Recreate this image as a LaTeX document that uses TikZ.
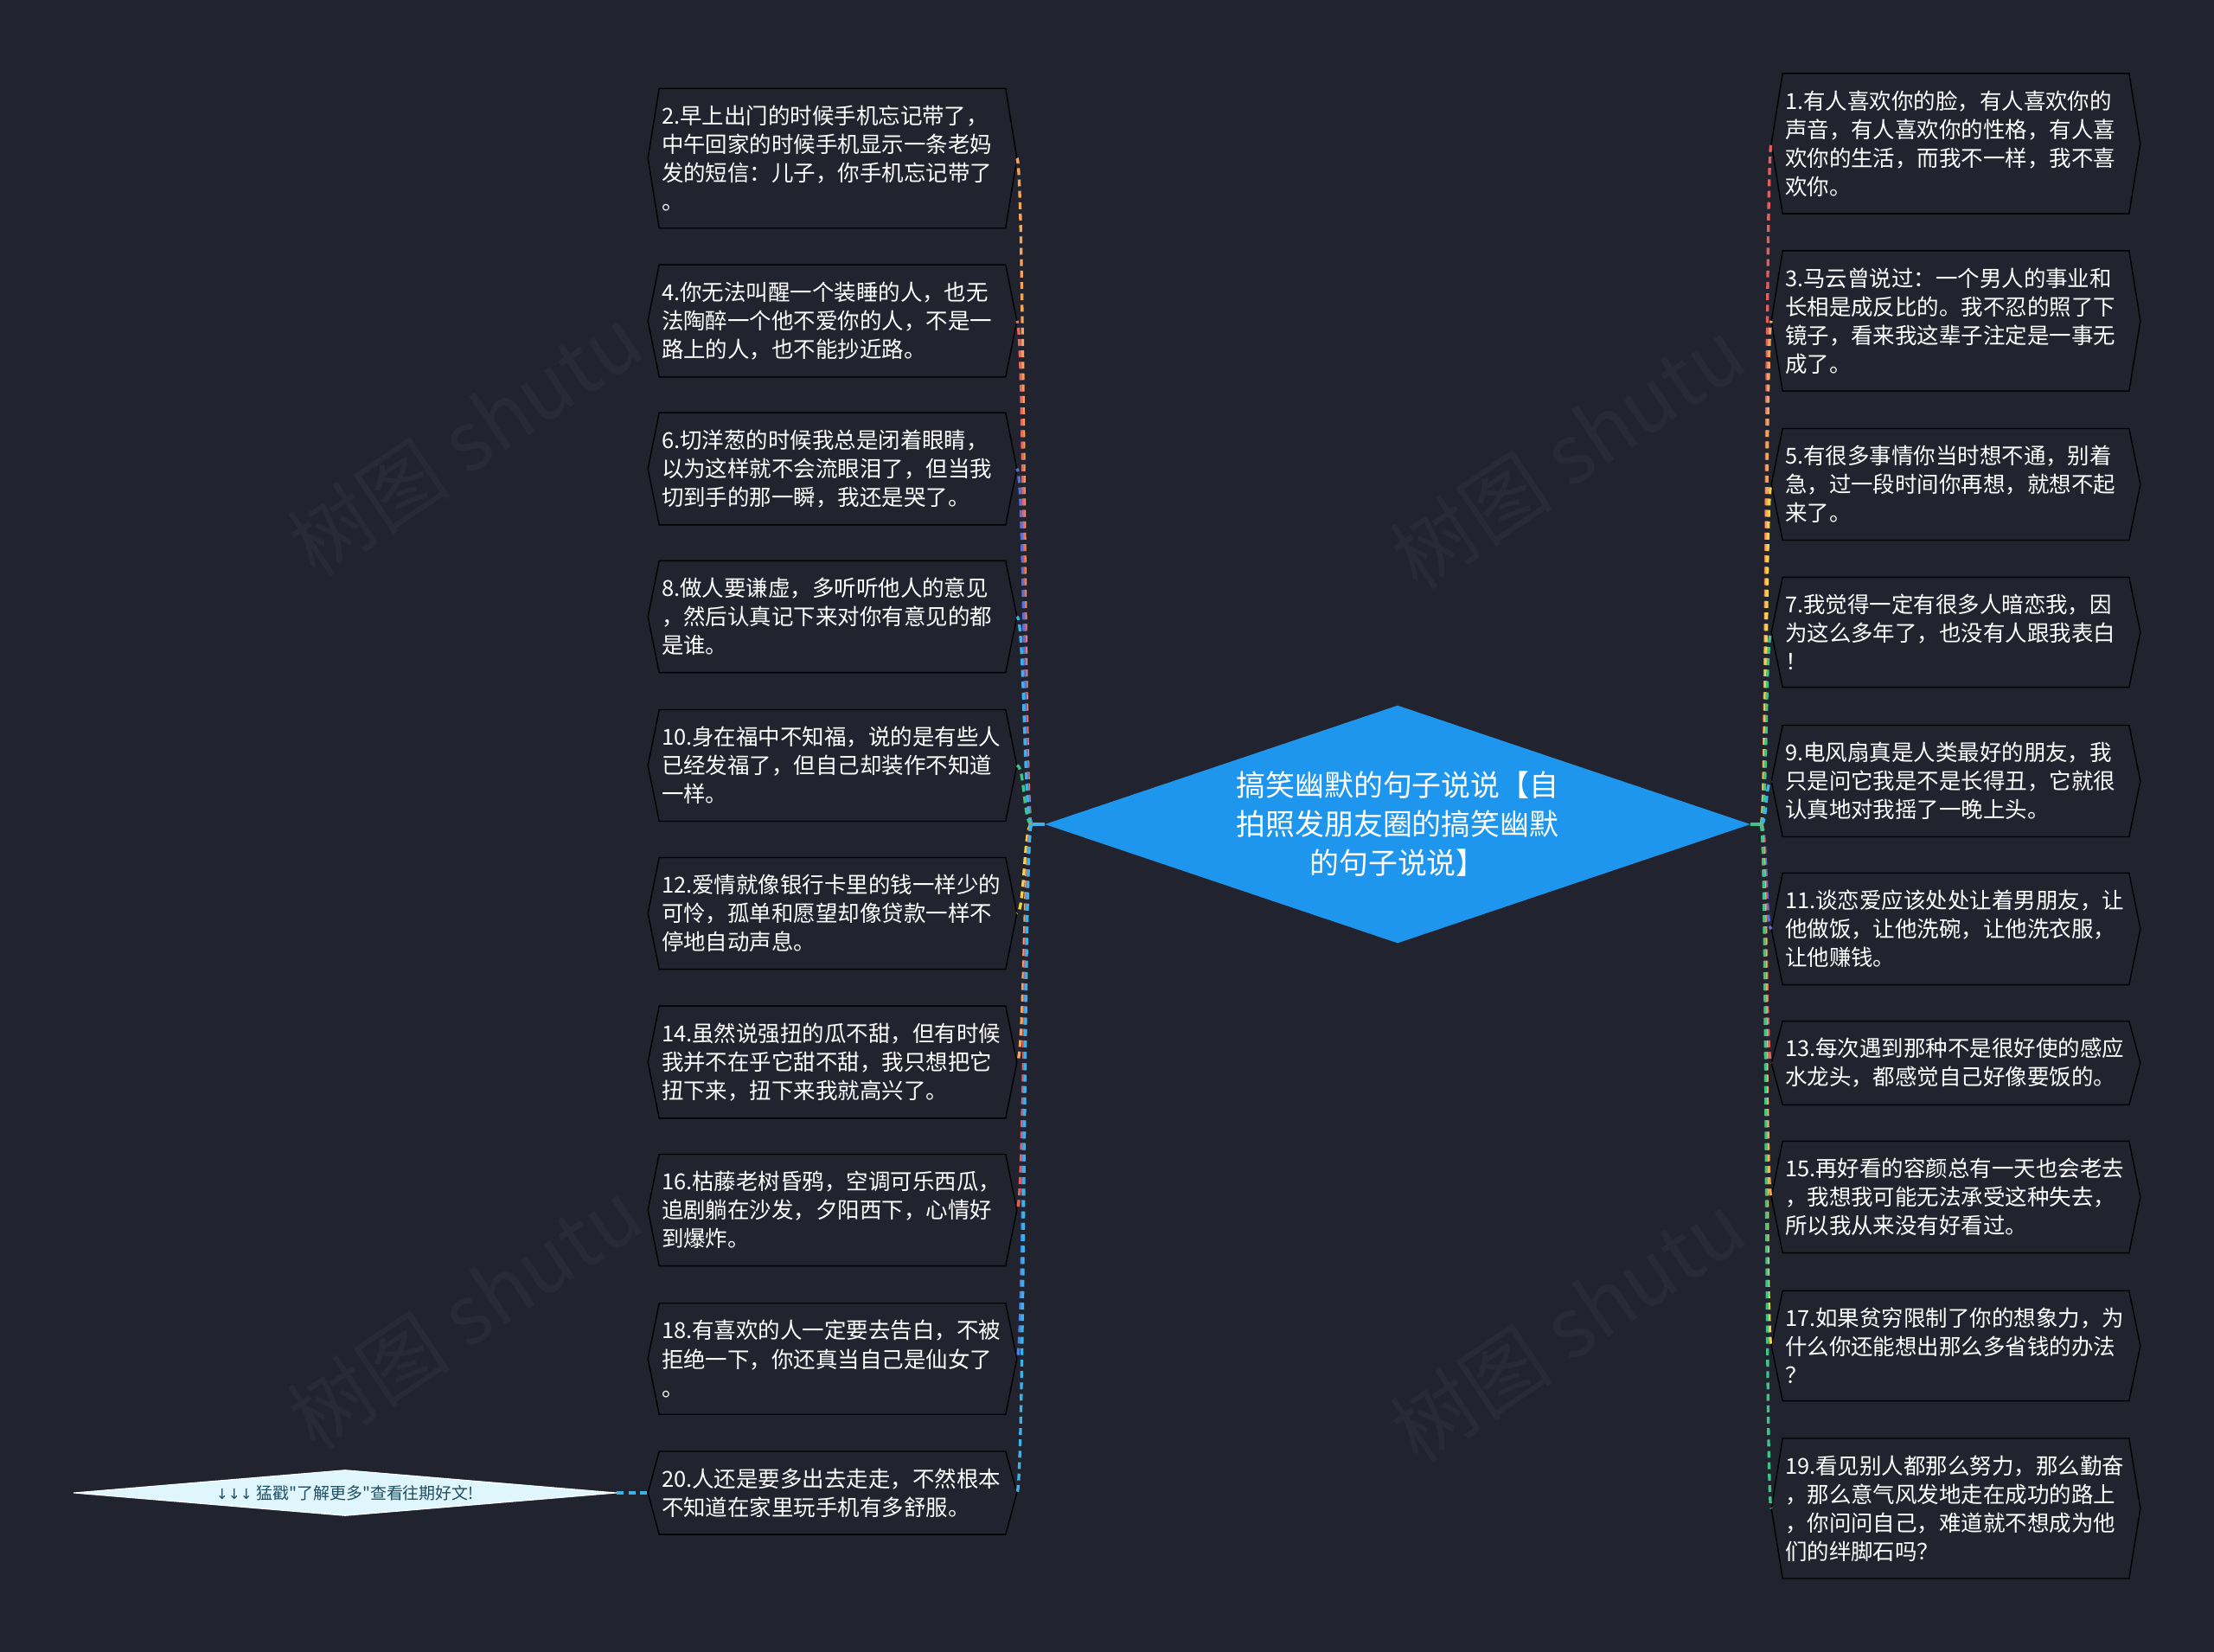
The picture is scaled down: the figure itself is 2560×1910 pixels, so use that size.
\documentclass[tikz,border=0pt]{standalone}
\usepackage{fontspec}
\setmainfont{Noto Sans CJK SC}
\newfontfamily\tagfont{Noto Sans CJK SC}
\newfontfamily\arrowfont{DejaVu Sans}
\usetikzlibrary{calc, shapes.geometric}
\definecolor{canvas}{HTML}{21242F}
\definecolor{wmark}{HTML}{282B36}
\definecolor{hubc}{HTML}{1E96EE}
\definecolor{tipc}{HTML}{E0F6FD}
\definecolor{tiptext}{HTML}{1D4E63}
\definecolor{corange}{HTML}{F4A55A}
\definecolor{csalmon}{HTML}{E8675F}
\definecolor{cviolet}{HTML}{5B6FD8}
\definecolor{csky}{HTML}{3DB2E8}
\definecolor{cgreen}{HTML}{3CC48A}
\definecolor{cyellow}{HTML}{F3D444}
\definecolor{cred}{HTML}{E35E5E}
\definecolor{cblue}{HTML}{4E80E2}
\tikzset{
  leaf/.style={text=white, align=left, text width=7.9cm, inner xsep=0.05cm, inner ysep=11pt,
               font=\fontsize{14.5}{18.8}\selectfont},
  rim/.style={draw=black, line width=0.8pt, line join=miter},
  hub/.style={diamond, aspect=2.97, fill=hubc, text=white, align=center, inner sep=0pt,
              minimum width=16.32cm, minimum height=5.5cm, font=\fontsize{19.3}{25.6}\selectfont},
  tip/.style={diamond, aspect=11.85, fill=tipc, draw=white, line width=0.6pt, text=tiptext,
              inner sep=0pt, minimum width=12.56cm, minimum height=1.06cm,
              font=\tagfont\fontsize{10.8}{13}\selectfont},
  link/.style={line width=1.9pt, dash pattern=on 4.5pt off 3pt},
  stub/.style={line width=1.9pt},
  wm/.style={text=wmark, font=\fontsize{54}{54}\selectfont, rotate=34, anchor=west, inner sep=0pt},
}
\newcommand{\saying}[4]{% node name, x of the centre, y of the centre, text
  \node[leaf] (#1) at (#2,#3) {#4};
  \coordinate (#1-w) at ($(#1.west)+(-13,0)$);
  \coordinate (#1-e) at ($(#1.east)+(13,0)$);
  \draw[rim] (#1-w) -- (#1.north west) -- (#1.north east) -- (#1-e) -- (#1.south east) -- (#1.south west) -- cycle;
}
\begin{document}
\begin{tikzpicture}[x=0.02cm, y=-0.02cm]
\useasboundingbox (0,0) rectangle (2560,1910);

% ---------------- canvas ----------------
\fill[canvas] (0,0) rectangle (2560,1910);
\node[wm] (wm1) at (345,640) {树图 shutu};
\node[wm] (wm2) at (1620,655) {树图 shutu};
\node[wm] (wm3) at (345,1650) {树图 shutu};
\node[wm] (wm4) at (1620,1665) {树图 shutu};

% ---------------- centre ----------------
\node[hub] (hub) at (1616,953) {搞笑幽默的句子说说【自\\拍照发朋友圈的搞笑幽默\\的句子说说】};
\coordinate (hl) at ($(hub.west)+(-15,0)$);
\coordinate (hr) at ($(hub.east)+(12,0)$);

% ---------------- left column ----------------
\saying{l2}{962.5}{183}{2.早上出门的时候手机忘记带了，\\中午回家的时候手机显示一条老妈\\发的短信：儿子，你手机忘记带了\\。}
\saying{l4}{962.5}{371}{4.你无法叫醒一个装睡的人，也无\\法陶醉一个他不爱你的人，不是一\\路上的人，也不能抄近路。}
\saying{l6}{962.5}{542}{6.切洋葱的时候我总是闭着眼睛，\\以为这样就不会流眼泪了，但当我\\切到手的那一瞬，我还是哭了。}
\saying{l8}{962.5}{713}{8.做人要谦虚，多听听他人的意见\\，然后认真记下来对你有意见的都\\是谁。}
\saying{l10}{962.5}{885}{10.身在福中不知福，说的是有些人\\已经发福了，但自己却装作不知道\\一样。}
\saying{l12}{962.5}{1056}{12.爱情就像银行卡里的钱一样少的\\可怜，孤单和愿望却像贷款一样不\\停地自动声息。}
\saying{l14}{962.5}{1228}{14.虽然说强扭的瓜不甜，但有时候\\我并不在乎它甜不甜，我只想把它\\扭下来，扭下来我就高兴了。}
\saying{l16}{962.5}{1399}{16.枯藤老树昏鸦，空调可乐西瓜，\\追剧躺在沙发，夕阳西下，心情好\\到爆炸。}
\saying{l18}{962.5}{1571}{18.有喜欢的人一定要去告白，不被\\拒绝一下，你还真当自己是仙女了\\。}
\saying{l20}{962.5}{1726}{20.人还是要多出去走走，不然根本\\不知道在家里玩手机有多舒服。}

% ---------------- right column ----------------
\saying{r1}{2261.5}{166}{1.有人喜欢你的脸，有人喜欢你的\\声音，有人喜欢你的性格，有人喜\\欢你的生活，而我不一样，我不喜\\欢你。}
\saying{r3}{2261.5}{371}{3.马云曾说过：一个男人的事业和\\长相是成反比的。我不忍的照了下\\镜子，看来我这辈子注定是一事无\\成了。}
\saying{r5}{2261.5}{560}{5.有很多事情你当时想不通，别着\\急，过一段时间你再想，就想不起\\来了。}
\saying{r7}{2261.5}{731}{7.我觉得一定有很多人暗恋我，因\\为这么多年了，也没有人跟我表白\\！}
\saying{r9}{2261.5}{903}{9.电风扇真是人类最好的朋友，我\\只是问它我是不是长得丑，它就很\\认真地对我摇了一晚上头。}
\saying{r11}{2261.5}{1074}{11.谈恋爱应该处处让着男朋友，让\\他做饭，让他洗碗，让他洗衣服，\\让他赚钱。}
\saying{r13}{2261.5}{1229}{13.每次遇到那种不是很好使的感应\\水龙头，都感觉自己好像要饭的。}
\saying{r15}{2261.5}{1384}{15.再好看的容颜总有一天也会老去\\，我想我可能无法承受这种失去，\\所以我从来没有好看过。}
\saying{r17}{2261.5}{1556}{17.如果贫穷限制了你的想象力，为\\什么你还能想出那么多省钱的办法\\？}
\saying{r19}{2261.5}{1744}{19.看见别人都那么努力，那么勤奋\\，那么意气风发地走在成功的路上\\，你问问自己，难道就不想成为他\\们的绊脚石吗？}

% ---------------- links ----------------
\draw[stub, csky] (hub.west) -- (hl);
\draw[stub, cgreen] (hub.east) -- (hr);
\foreach \n/\c in {l2/corange, l4/csalmon, l6/cviolet, l8/csky, l10/cgreen,
                   l12/cyellow, l14/corange, l16/cred, l18/cblue, l20/csky} {
  \draw[link, \c] (hl) .. controls +(-9,0) and +(9,0) .. (\n-e);
}
\foreach \n/\c in {r1/cred, r3/corange, r5/cyellow, r7/cgreen, r9/csky,
                   r11/cviolet, r13/cred, r15/corange, r17/cyellow, r19/cgreen} {
  \draw[link, \c] (hr) .. controls +(7,0) and +(-7,0) .. (\n-w);
}

% ---------------- more ----------------
\node[tip] (tag) at (399,1726) {{\arrowfont\fontsize{9.5}{13}\selectfont ↓↓↓} 猛戳"了解更多"查看往期好文!};
\draw[link, csky] (tag.east) -- (l20-w);

\end{tikzpicture}
\end{document}
